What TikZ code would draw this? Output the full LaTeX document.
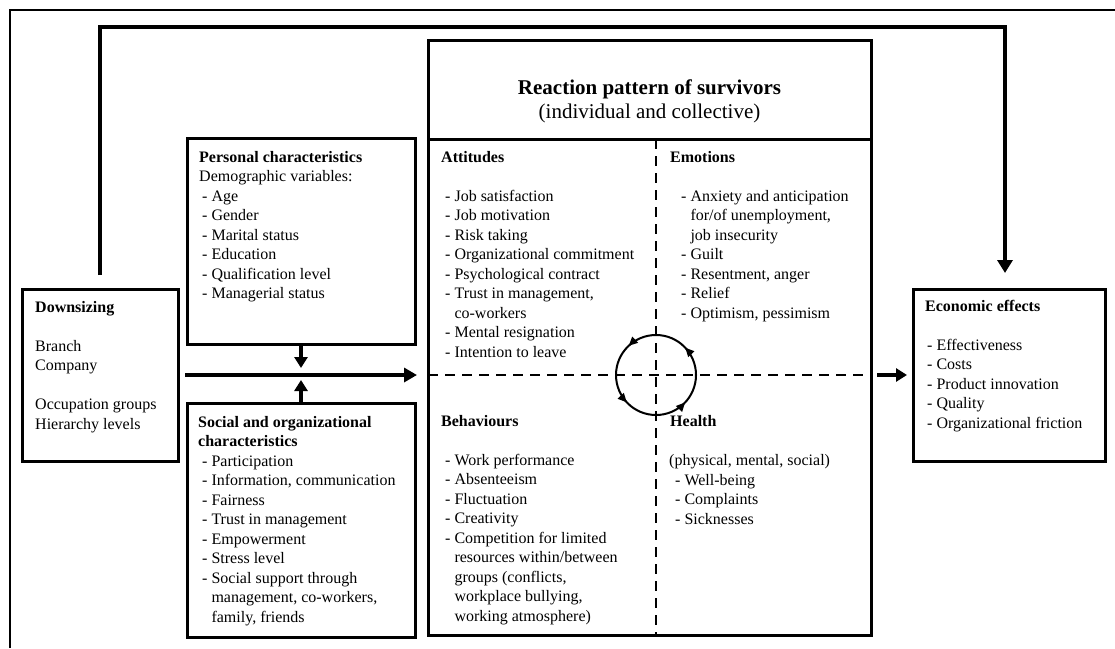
\documentclass[tikz,border=0pt]{standalone}
\usepackage{fontspec}
\setmainfont{Liberation Serif}
\usetikzlibrary{arrows.meta,decorations.markings,calc}

% continuation line of a "- " item
\newcommand{\contln}{\hphantom{-}\ }
% list body: one row per line, baseline at the first row
\newcommand{\lst}[1]{\begin{tabular}[t]{@{}l@{}}#1\end{tabular}}

\begin{document}
\begin{tikzpicture}[
  x=1pt, y=-1pt,
  box/.style={draw, line width=3pt, inner sep=0pt, outer sep=0pt, anchor=north west},
  txt/.style={inner sep=0pt, anchor=base west, font=\fontsize{16}{19.5}\selectfont},
  head/.style={inner sep=0pt, anchor=base west, font=\fontsize{16}{19.5}\selectfont\bfseries},
  bigflow/.style={line width=4.5pt, -{Triangle[length=13pt,width=14pt]}},
  smallflow/.style={line width=3.5pt, -{Triangle[length=11pt,width=13pt]}},
  divider/.style={line width=1.5pt, dash pattern=on 10pt off 7pt},
  cycle arrows/.style={line width=2pt, postaction={decorate},
    decoration={markings,
      mark=at position 0.12 with {\arrow{Triangle[length=9pt,width=8pt]}},
      mark=at position 0.37 with {\arrow{Triangle[length=9pt,width=8pt]}},
      mark=at position 0.62 with {\arrow{Triangle[length=9pt,width=8pt]}},
      mark=at position 0.88 with {\arrow{Triangle[length=9pt,width=8pt]}}}},
]
\useasboundingbox (0,0) rectangle (1115,648);

% open outer frame
\draw[line width=2.6pt, line join=miter] (10,648) -- (10,10) -- (1115,10);

% boxes
\node[box, minimum width=156pt, minimum height=172pt] (down)  at (22,289)  {};
\node[box, minimum width=228pt, minimum height=206pt] (pers)  at (187,138) {};
\node[box, minimum width=228pt, minimum height=234pt] (soc)   at (187,403) {};
\node[box, minimum width=443pt, minimum height=595pt] (react) at (428,40)  {};
\node[box, minimum width=192pt, minimum height=172pt] (econ)  at (913,289) {};

% title strip of the reaction box
\coordinate (sepL) at (428,139);
\coordinate (sepR) at (871,139);
\draw[line width=3pt] (sepL) -- (sepR);

% quadrant dividers and the cycle in the middle
\coordinate (hub) at (656,375);
\draw[divider] (react.west |- hub) -- (react.east |- hub);
\draw[divider] (hub |- sepL) -- (hub |- react.south);
\draw[cycle arrows] (hub) circle[radius=40pt];

% connectors
\draw[line width=4.5pt, line join=miter, -{Triangle[length=13pt,width=15pt]},
      shorten <=14pt, shorten >=16pt]
  (down.north) -- (down.north |- 0,27) -| ([xshift=-4pt]econ.north);
\draw[bigflow, shorten <=7pt, shorten >=11pt] (down.east) -- (down.east -| react.west);
\coordinate (meet) at (pers.south |- down.east);
\draw[smallflow, shorten >=7pt] (pers.south) -- (meet);
\draw[smallflow, shorten >=5pt] (soc.north) -- (meet);
\draw[line width=4.5pt, -{Triangle[length=11pt,width=13pt]}, shorten <=6pt, shorten >=6pt]
  (econ.west -| react.east) -- (econ.west);

% title
\node[inner sep=0pt, anchor=base, font=\fontsize{21}{24}\selectfont] (title) at (649.5,94)
  {\begin{tabular}[t]{@{}c@{}}\textbf{Reaction pattern of survivors}\\(individual and collective)\end{tabular}};

% Downsizing
\node[txt] (downT) at (35,312)
  {\lst{\textbf{Downsizing}\\ \\ Branch\\ Company\\ \\ Occupation groups\\ Hierarchy levels}};

% Personal characteristics
\node[txt] (persH) at (199,162) {\lst{\textbf{Personal characteristics}\\ Demographic variables:}};
\node[txt] (persL) at (202,201)
  {\lst{- Age\\ - Gender\\ - Marital status\\ - Education\\ - Qualification level\\ - Managerial status}};

% Social and organizational characteristics
\node[head] (socH) at (198,427) {\lst{Social and organizational\\ characteristics}};
\node[txt] (socL) at (202,466)
  {\lst{- Participation\\ - Information, communication\\ - Fairness\\ - Trust in management\\
   - Empowerment\\ - Stress level\\ - Social support through\\ \contln management, co-workers,\\ \contln family, friends}};

% Attitudes
\node[head] (attH) at (441,162) {Attitudes};
\node[txt] (attL) at (445,201)
  {\lst{- Job satisfaction\\ - Job motivation\\ - Risk taking\\ - Organizational commitment\\
   - Psychological contract\\ - Trust in management,\\ \contln co-workers\\ - Mental resignation\\ - Intention to leave}};

% Emotions
\node[head] (emoH) at (670,162) {Emotions};
\node[txt] (emoL) at (681,201)
  {\lst{- Anxiety and anticipation\\ \contln for/of unemployment,\\ \contln job insecurity\\ - Guilt\\
   - Resentment, anger\\ - Relief\\ - Optimism, pessimism}};

% Behaviours
\node[head] (behH) at (441,426) {Behaviours};
\node[txt] (behL) at (445,465)
  {\lst{- Work performance\\ - Absenteeism\\ - Fluctuation\\ - Creativity\\ - Competition for limited\\
   \contln resources within/between\\ \contln groups (conflicts,\\ \contln workplace bullying,\\ \contln working atmosphere)}};

% Health
\node[head] (heaH) at (670,426) {Health};
\node[txt] (heaS) at (669,465) {(physical, mental, social)};
\node[txt] (heaL) at (675,485) {\lst{- Well-being\\ - Complaints\\ - Sicknesses}};

% Economic effects
\node[head] (ecoH) at (925,311) {Economic effects};
\node[txt] (ecoL) at (927,350)
  {\lst{- Effectiveness\\ - Costs\\ - Product innovation\\ - Quality\\ - Organizational friction}};
\end{tikzpicture}
\end{document}
